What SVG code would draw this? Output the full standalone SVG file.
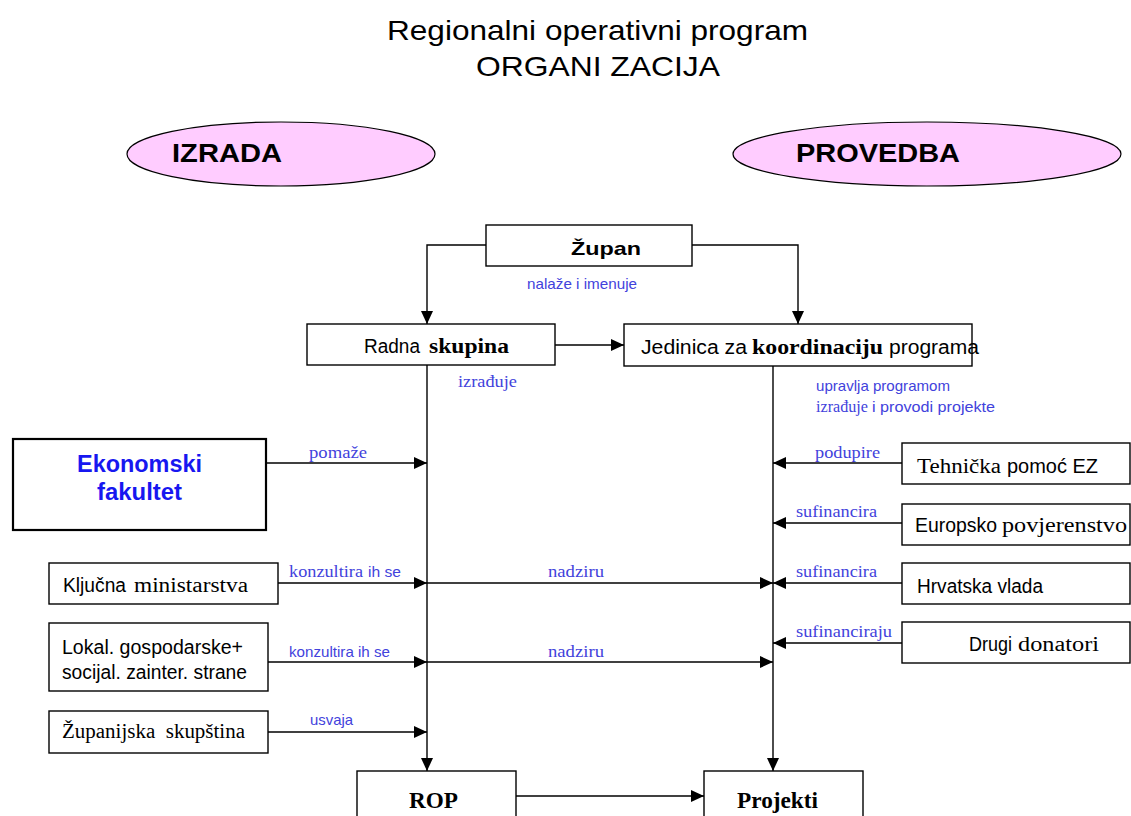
<svg xmlns="http://www.w3.org/2000/svg" width="1131" height="816" viewBox="0 0 1131 816">
<style>
.box{fill:#fff;stroke:#000;stroke-width:1.4}
.ell{fill:#ffccff;stroke:#000;stroke-width:1.2}
.ln{fill:none;stroke:#000;stroke-width:1.4}
.a{font-family:"Liberation Sans",Arial,sans-serif;fill:#000}
.t{font-family:"Liberation Serif","Times New Roman",serif;fill:#000}
.b{font-weight:bold}
.lbl{fill:#4242dc}
text{white-space:pre}
</style>
<defs>
<marker id="ar" markerUnits="userSpaceOnUse" markerWidth="14" markerHeight="12" refX="13" refY="6" orient="auto">
<path d="M0,0 L13,6 L0,12 Z" fill="#000"/>
</marker>
</defs>
<rect width="1131" height="816" fill="#fff"/>

<g id="title">
<text class="a" x="387" y="40" font-size="28" textLength="421" lengthAdjust="spacingAndGlyphs">Regionalni operativni program</text>
<text class="a" x="476" y="76" font-size="28" textLength="244" lengthAdjust="spacingAndGlyphs">ORGANI ZACIJA</text>
</g>

<g id="izrada">
<ellipse class="ell" cx="281" cy="154" rx="154" ry="32"/>
<text class="a b" x="172" y="162" font-size="26" textLength="110" lengthAdjust="spacingAndGlyphs">IZRADA</text>
</g>
<g id="provedba">
<ellipse class="ell" cx="927" cy="154" rx="194" ry="32"/>
<text class="a b" x="796" y="162" font-size="26" textLength="164" lengthAdjust="spacingAndGlyphs">PROVEDBA</text>
</g>

<g id="connectors">
<polyline class="ln" points="486,245 427,245 427,324" marker-end="url(#ar)"/>
<polyline class="ln" points="692,245 798,245 798,324" marker-end="url(#ar)"/>
<line class="ln" x1="555" y1="345" x2="624" y2="345" marker-end="url(#ar)"/>
<line class="ln" x1="427" y1="365" x2="427" y2="771" marker-end="url(#ar)"/>
<line class="ln" x1="773" y1="366" x2="773" y2="771" marker-end="url(#ar)"/>
<line class="ln" x1="266" y1="463" x2="427" y2="463" marker-end="url(#ar)"/>
<line class="ln" x1="278" y1="583" x2="427" y2="583" marker-end="url(#ar)"/>
<line class="ln" x1="427" y1="583" x2="773" y2="583" marker-end="url(#ar)"/>
<line class="ln" x1="268" y1="662" x2="427" y2="662" marker-end="url(#ar)"/>
<line class="ln" x1="427" y1="662" x2="773" y2="662" marker-end="url(#ar)"/>
<line class="ln" x1="268" y1="732" x2="427" y2="732" marker-end="url(#ar)"/>
<line class="ln" x1="902" y1="463" x2="773" y2="463" marker-end="url(#ar)"/>
<line class="ln" x1="902" y1="523" x2="773" y2="523" marker-end="url(#ar)"/>
<line class="ln" x1="902" y1="583" x2="773" y2="583" marker-end="url(#ar)"/>
<line class="ln" x1="902" y1="643" x2="773" y2="643" marker-end="url(#ar)"/>
<line class="ln" x1="516" y1="796" x2="704" y2="796" marker-end="url(#ar)"/>

<text class="a lbl" x="527" y="289" font-size="15" textLength="110" lengthAdjust="spacingAndGlyphs">nalaže i imenuje</text>
<text class="t lbl" x="458" y="387" font-size="16" textLength="59" lengthAdjust="spacingAndGlyphs">izrađuje</text>
<text class="a lbl" x="816" y="391" font-size="15" textLength="134" lengthAdjust="spacingAndGlyphs">upravlja programom</text>
<text class="t lbl" x="816" y="412" font-size="16" textLength="52" lengthAdjust="spacingAndGlyphs">izrađuje</text>
<text class="a lbl" x="872" y="412" font-size="15" textLength="123" lengthAdjust="spacingAndGlyphs">i provodi projekte</text>
<text class="t lbl" x="309" y="458" font-size="16" textLength="58" lengthAdjust="spacingAndGlyphs">pomaže</text>
<text class="t lbl" x="289" y="577" font-size="16" textLength="74" lengthAdjust="spacingAndGlyphs">konzultira</text>
<text class="a lbl" x="368" y="577" font-size="15" textLength="33" lengthAdjust="spacingAndGlyphs">ih se</text>
<text class="t lbl" x="548" y="577" font-size="16" textLength="56" lengthAdjust="spacingAndGlyphs">nadziru</text>
<text class="a lbl" x="289" y="657" font-size="15" textLength="101" lengthAdjust="spacingAndGlyphs">konzultira ih se</text>
<text class="t lbl" x="548" y="657" font-size="16" textLength="56" lengthAdjust="spacingAndGlyphs">nadziru</text>
<text class="a lbl" x="310" y="725" font-size="15" textLength="43" lengthAdjust="spacingAndGlyphs">usvaja</text>
<text class="t lbl" x="815" y="458" font-size="16" textLength="65" lengthAdjust="spacingAndGlyphs">podupire</text>
<text class="t lbl" x="796" y="517" font-size="16" textLength="81" lengthAdjust="spacingAndGlyphs">sufinancira</text>
<text class="t lbl" x="796" y="577" font-size="16" textLength="81" lengthAdjust="spacingAndGlyphs">sufinancira</text>
<text class="t lbl" x="796" y="637" font-size="16" textLength="96" lengthAdjust="spacingAndGlyphs">sufinanciraju</text>
</g>

<g id="zupan">
<rect class="box" x="486" y="225" width="206" height="41"/>
<text class="a b" x="571" y="255" font-size="19" textLength="70" lengthAdjust="spacingAndGlyphs">Župan</text>
</g>

<g id="radna">
<rect class="box" x="307" y="324" width="248" height="41"/>
<text class="a" x="364" y="353" font-size="20" textLength="56" lengthAdjust="spacingAndGlyphs">Radna</text>
<text class="t b" x="429" y="353" font-size="20" textLength="80" lengthAdjust="spacingAndGlyphs">skupina</text>
</g>

<g id="jedinica">
<rect class="box" x="624" y="324" width="348" height="42"/>
<text class="a" x="641" y="354" font-size="20" textLength="106" lengthAdjust="spacingAndGlyphs">Jedinica za</text>
<text class="t b" x="752" y="354" font-size="20" textLength="131" lengthAdjust="spacingAndGlyphs">koordinaciju</text>
<text class="a" x="889" y="354" font-size="20" textLength="90" lengthAdjust="spacingAndGlyphs">programa</text>
</g>

<g id="ekonomski">
<rect x="13" y="439" width="253" height="91" fill="#fff" stroke="#000" stroke-width="2.2"/>
<text class="a b" x="77" y="472" font-size="23" style="fill:#1717f0" textLength="125" lengthAdjust="spacingAndGlyphs">Ekonomski</text>
<text class="a b" x="97" y="500" font-size="23" style="fill:#1717f0" textLength="85" lengthAdjust="spacingAndGlyphs">fakultet</text>
</g>

<g id="kljucna">
<rect class="box" x="49" y="563" width="229" height="41"/>
<text class="a" x="63" y="592" font-size="20" textLength="63" lengthAdjust="spacingAndGlyphs">Ključna</text>
<text class="t" x="134" y="592" font-size="20" textLength="114" lengthAdjust="spacingAndGlyphs">ministarstva</text>
</g>

<g id="lokal">
<rect class="box" x="49" y="623" width="219" height="68"/>
<text class="a" x="62" y="654" font-size="20" textLength="181" lengthAdjust="spacingAndGlyphs">Lokal. gospodarske+</text>
<text class="a" x="62" y="679" font-size="20" textLength="185" lengthAdjust="spacingAndGlyphs">socijal. zainter. strane</text>
</g>

<g id="zupanijska">
<rect class="box" x="49" y="711" width="219" height="42"/>
<text class="t" x="62" y="738" font-size="20" textLength="183" lengthAdjust="spacingAndGlyphs">Županijska  skupština</text>
</g>

<g id="tehnicka">
<rect class="box" x="902" y="443" width="228" height="41"/>
<text class="t" x="917" y="473" font-size="20" textLength="84" lengthAdjust="spacingAndGlyphs">Tehnička</text>
<text class="a" x="1007" y="473" font-size="20" textLength="91" lengthAdjust="spacingAndGlyphs">pomoć EZ</text>
</g>

<g id="europsko">
<rect class="box" x="902" y="504" width="228" height="41"/>
<text class="a" x="915" y="532" font-size="20" textLength="82" lengthAdjust="spacingAndGlyphs">Europsko</text>
<text class="t" x="1002" y="532" font-size="20" textLength="125" lengthAdjust="spacingAndGlyphs">povjerenstvo</text>
</g>

<g id="hrvatska">
<rect class="box" x="902" y="563" width="228" height="41"/>
<text class="a" x="917" y="593" font-size="20" textLength="126" lengthAdjust="spacingAndGlyphs">Hrvatska vlada</text>
</g>

<g id="drugi">
<rect class="box" x="902" y="622" width="228" height="41"/>
<text class="a" x="969" y="651" font-size="20" textLength="43" lengthAdjust="spacingAndGlyphs">Drugi</text>
<text class="t" x="1018" y="651" font-size="20" textLength="81" lengthAdjust="spacingAndGlyphs">donatori</text>
</g>

<g id="rop">
<rect class="box" x="357" y="771" width="159" height="60"/>
<text class="t b" x="409" y="808" font-size="24" textLength="49" lengthAdjust="spacingAndGlyphs">ROP</text>
</g>

<g id="projekti">
<rect class="box" x="704" y="771" width="159" height="60"/>
<text class="t b" x="737" y="808" font-size="24" textLength="81" lengthAdjust="spacingAndGlyphs">Projekti</text>
</g>
</svg>
